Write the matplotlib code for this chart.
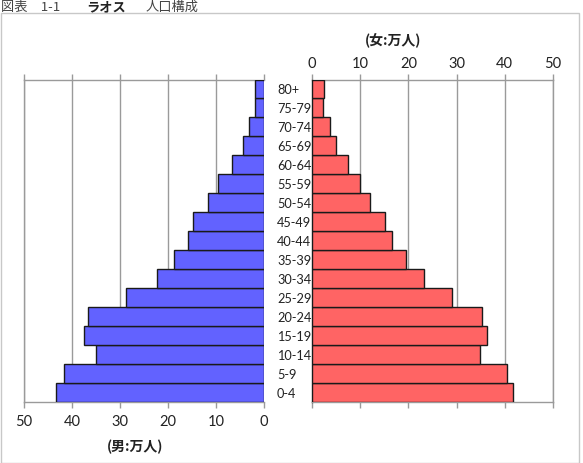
import matplotlib
matplotlib.use("Agg")
import matplotlib.pyplot as plt
from matplotlib.patches import Rectangle

plt.rcParams['font.family'] = ['Lato', 'Noto Sans CJK JP', 'DejaVu Sans']

ages = ["0-4", "5-9", "10-14", "15-19", "20-24", "25-29", "30-34", "35-39",
        "40-44", "45-49", "50-54", "55-59", "60-64", "65-69", "70-74", "75-79", "80+"]
male = [43.4, 41.6, 35.1, 37.4, 36.7, 28.7, 22.2, 18.75, 15.9, 14.7, 11.7, 9.5,
        6.6, 4.4, 3.1, 1.9, 1.9]
female = [41.7, 40.4, 34.8, 36.4, 35.3, 29.1, 23.2, 19.6, 16.7, 15.1, 12.1, 10.0,
          7.5, 5.0, 3.75, 2.2, 2.4]
xticks = [0, 10, 20, 30, 40, 50]

W, H = 583, 464
fig = plt.figure(figsize=(W / 100, H / 100), dpi=100)

def px_axes(x0, x1, ytop, ybot):
    return fig.add_axes([x0 / W, (H - ybot) / H, (x1 - x0) / W, (ybot - ytop) / H])

grid_c = '#9a9a9a'
blue = '#6262ff'
red = '#ff6464'

axL = px_axes(24, 264, 80.5, 403)
axR = px_axes(312, 553, 80.5, 403)

ypos = list(range(len(ages)))

for ax, vals, col in ((axL, male, blue), (axR, female, red)):
    ax.barh(ypos, vals, height=1.0, color=col, edgecolor='#1a1a1a', linewidth=1.0, zorder=3)
    ax.set_ylim(-0.5, len(ages) - 0.5)
    ax.set_xlim(0, 50)
    ax.set_xticks(xticks)
    ax.set_yticks([])
    ax.grid(axis='x', color=grid_c, linewidth=1.0, zorder=0)
    for s in ax.spines.values():
        s.set_color(grid_c)
        s.set_linewidth(1.0)
    ax.tick_params(axis='x', colors=grid_c, labelcolor='#222222', labelsize=10.5,
                   length=4, width=1.0)

axL.invert_xaxis()
axL.spines['right'].set_visible(False)
axL.tick_params(axis='x', top=True, bottom=True, labeltop=False, labelbottom=True, pad=5)

axR.spines['left'].set_color('#1a1a1a')
axR.tick_params(axis='x', top=True, bottom=True, labeltop=True, labelbottom=False, pad=3)

for i, a in enumerate(ages):
    fig.text(277 / W, (H - (403 - (i + 0.5) * (322.5 / 17))) / H, a,
             fontsize=9.2, ha='left', va='center', color='#222222', family='Lato')

fig.text(135 / W, (H - 447) / H, "(男:万人)", fontsize=10, ha='center', va='center',
         family=['Noto Sans CJK JP'], fontweight='bold', color='#222222')
fig.text(393 / W, (H - 40) / H, "(女:万人)", fontsize=10, ha='center', va='center',
         family=['Noto Sans CJK JP'], fontweight='bold', color='#222222')

ty = (H - 0.5) / H
fig.text(1 / W, ty, "図表　1-1", fontsize=9.5, ha='left', va='top',
         family=['Noto Sans CJK JP'], color='#444444')
fig.text(86 / W, ty, "ラオス", fontsize=9.5, ha='left', va='top',
         family=['Noto Sans CJK JP'], fontweight='bold', color='#222222')
fig.text(146 / W, ty, "人口構成", fontsize=9.5, ha='left', va='top',
         family=['Noto Sans CJK JP'], color='#444444')

fig.patches.append(Rectangle((1 / W, 0), 578 / W, (H - 14) / H, transform=fig.transFigure,
                             fill=False, edgecolor='#c8c8c8', linewidth=1.0))

fig.savefig("out.png", dpi=100)
